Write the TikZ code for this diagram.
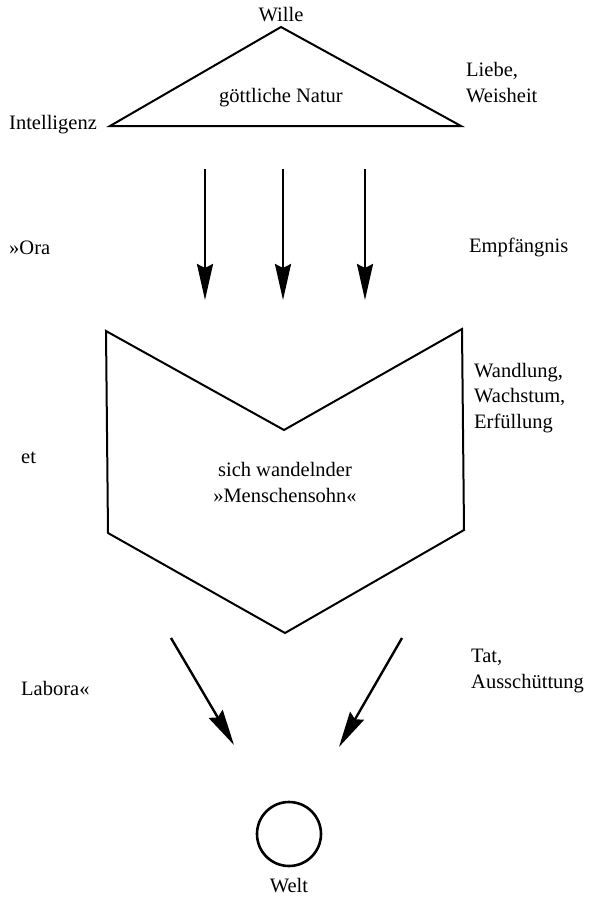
\documentclass[tikz,border=0pt]{standalone}
\usepackage{fontspec}
\setmainfont{Liberation Serif}
\usetikzlibrary{arrows.meta}
\begin{document}
\begin{tikzpicture}[x=1pt,y=-1pt,
  lbl/.style={font=\fontsize{20.5}{25.5}\selectfont, inner sep=0pt, align=left},
  clbl/.style={font=\fontsize{20.5}{25.5}\selectfont, inner sep=0pt, align=center},
  shape line/.style={draw=black, line width=2pt, line join=miter},
  flow/.style={draw=black, line width=2.4pt, -{Stealth[length=36pt,width=16pt,inset=4pt]}}]
\useasboundingbox (0,0) rectangle (593,897);
% triangle
\coordinate (apex) at (281,27);
\coordinate (tl) at (110,126);
\coordinate (tr) at (461,126);
\draw[shape line] (apex) -- (tl) -- (tr) -- cycle;
\node[clbl, anchor=base] (wille) at (281,21) {Wille};
\node[clbl, anchor=base] (natur) at (281,102) {göttliche Natur};
\node[lbl, anchor=base west] (intel) at (9,129) {Intelligenz};
\node[lbl, anchor=base west] (liebe) at (466,102) {Liebe,\\Weisheit};
% arrows down
\coordinate (a1s) at (205,169); \coordinate (a1e) at (205,300);
\coordinate (a2s) at (283,169); \coordinate (a2e) at (283,300);
\coordinate (a3s) at (365,169); \coordinate (a3e) at (365,300);
\draw[flow] (a1s) -- (a1e);
\draw[flow] (a2s) -- (a2e);
\draw[flow] (a3s) -- (a3e);
\node[lbl, anchor=base west] (ora) at (9,254) {»Ora};
\node[lbl, anchor=base west] (empf) at (469,252) {Empfängnis};
% chevron
\coordinate (c1) at (106,331);
\coordinate (c2) at (284,430);
\coordinate (c3) at (462,329);
\coordinate (c4) at (464,530);
\coordinate (c5) at (285,633);
\coordinate (c6) at (108,533);
\draw[shape line] (c1) -- (c2) -- (c3) -- (c4) -- (c5) -- (c6) -- cycle;
\node[clbl, anchor=base] (sohn) at (285,502) {sich wandelnder\\»Menschensohn«};
\node[lbl, anchor=base west] (et) at (21,463) {et};
\node[lbl, anchor=base west] (wandl) at (474,428) {Wandlung,\\Wachstum,\\Erfüllung};
% lower arrows
\coordinate (b1s) at (171,638); \coordinate (b1e) at (234,745);
\coordinate (b2s) at (402,638); \coordinate (b2e) at (339,747);
\draw[flow] (b1s) -- (b1e);
\draw[flow] (b2s) -- (b2e);
\node[lbl, anchor=base west] (labora) at (21,695) {Labora«};
\node[lbl, anchor=base west] (tat) at (471,688) {Tat,\\Ausschüttung};
% world
\node[circle, draw=black, line width=2.6pt, minimum size=64pt, inner sep=0pt] (welt) at (289,834) {};
\node[clbl, anchor=base] (weltl) at (289,892) {Welt};
\end{tikzpicture}
\end{document}
